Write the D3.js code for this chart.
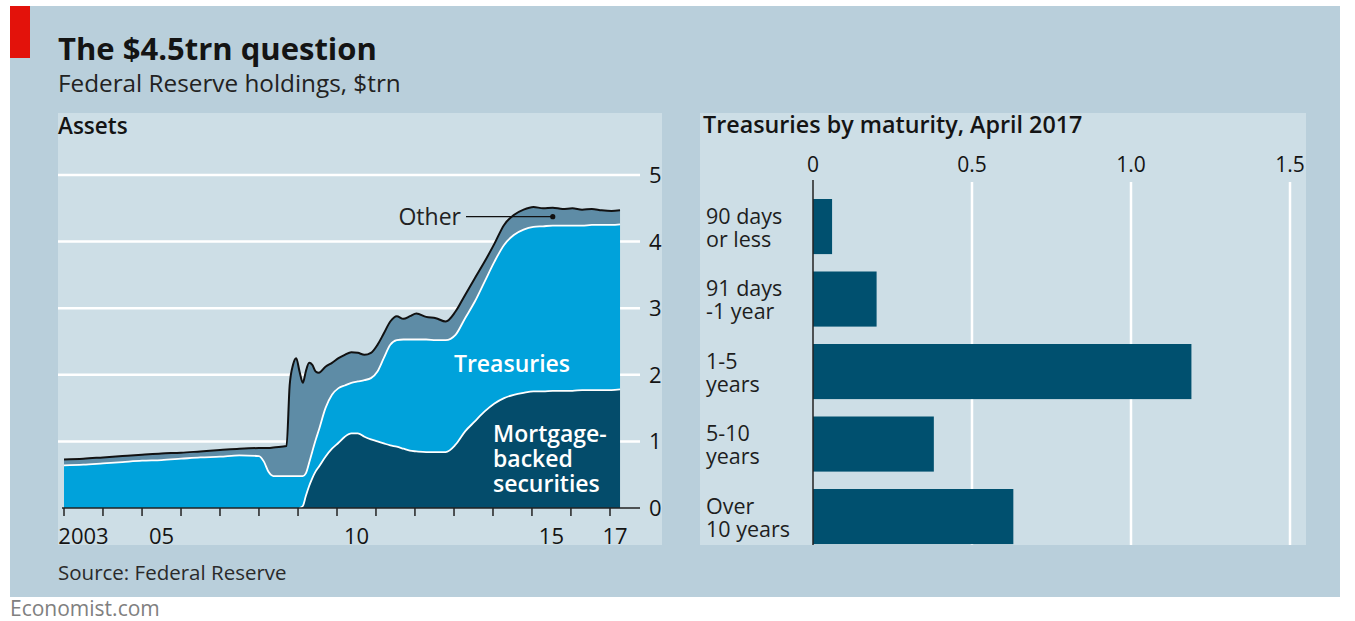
<!DOCTYPE html>
<html>
<head>
<meta charset="utf-8">
<script src="https://cdn.jsdelivr.net/npm/d3@7"></script>
<style>
  body { margin: 0; background: #fff; }
  svg text { font-family: "Open Sans", "Noto Sans", sans-serif; }
</style>
</head>
<body>
<svg id="chart" width="1355" height="621"></svg>
<script>
// Fed balance sheet, $trn
const dates = [
  "2003-01-01","2003-07-01","2004-01-01","2004-07-01","2005-01-01","2005-07-01",
  "2006-01-01","2006-07-01","2007-01-01","2007-07-01","2008-01-01","2008-02-15",
  "2008-04-01","2008-05-15","2008-09-15","2008-10-15","2008-11-15","2008-12-15",
  "2009-01-15","2009-02-15","2009-03-15","2009-04-15","2009-05-15","2009-06-15",
  "2009-07-15","2009-09-15","2009-11-15","2010-01-15","2010-03-15","2010-05-15",
  "2010-07-15","2010-09-15","2010-11-15","2011-01-15","2011-03-15","2011-05-15",
  "2011-07-15","2011-09-15","2011-11-15","2012-01-15","2012-04-15","2012-07-15",
  "2012-10-15","2013-01-15","2013-04-15","2013-07-15","2013-10-15","2014-01-15",
  "2014-04-15","2014-07-15","2014-10-15","2015-01-15","2015-04-15","2015-07-15",
  "2015-10-15","2016-01-15","2016-04-15","2016-07-15","2016-10-15","2017-01-15",
  "2017-04-05"
];
const mbs = [
  0,0,0,0,0,0, 0,0,0,0,0,0, 0,0,0,0,0,0,
  0,.03,.18,.33,.45,.55, .62,.77,.89,.98,1.07,1.12,
  1.12,1.07,1.03,1.00,.97,.94, .92,.89,.86,.85,.84,.84,
  .84,.95,1.15,1.30,1.45,1.57, 1.65,1.70,1.73,1.75,1.75,1.76,
  1.76,1.76,1.77,1.77,1.77,1.77, 1.78
];
const treasuries = [
  .64,.65,.67,.69,.71,.72, .74,.76,.77,.79,.78,.70, .54,.48,.48,.48,.48,.48,
  .48,.45,.34,.35,.40,.47, .55,.73,.81,.82,.77,.76,
  .78,.85,.92,1.05,1.28,1.51, 1.60,1.64,1.67,1.68,1.69,1.68,
  1.68,1.65,1.70,1.80,1.95,2.13, 2.30,2.40,2.45,2.47,2.48,2.48,
  2.48,2.48,2.47,2.48,2.48,2.48, 2.48
];
const other = [
  .09,.09,.09,.09,.09,.10, .09,.09,.10,.10,.12,.20, .36,.43,.45,1.37,1.67,1.77,
  1.57,1.40,1.53,1.50,1.30,1.03, .86,.62,.48,.45,.46,.46,
  .43,.38,.38,.40,.37,.35, .36,.31,.35,.39,.34,.33,
  .28,.35,.35,.35,.30,.27, .30,.30,.30,.30,.27,.27,
  .25,.26,.24,.24,.22,.21, .21
];
const yTicks = [0, 1, 2, 3, 4, 5];
const xTickYears = d3.range(2003, 2018);
const xLabels = [[2003, "2003"], [2005, "05"], [2010, "10"], [2015, "15"], [2017, "17"]];

// Treasuries by maturity, April 2017, $trn
const maturities = [
  ["90 days", "or less"],
  ["91 days", "-1 year"],
  ["1-5", "years"],
  ["5-10", "years"],
  ["Over", "10 years"]
];
const maturityValues = [0.06, 0.20, 1.19, 0.38, 0.63];
const barTicks = [0, 0.5, 1.0, 1.5];
const barTickLabels = ["0", "0.5", "1.0", "1.5"];

const C = {
  outer: "#b9cfdb",
  panel: "#cddee6",
  mbs: "#044c6b",
  treas: "#00a2db",
  other: "#5e8ca6",
  bar: "#00506f",
  ink: "#141414",
  grid: "#ffffff"
};

const svg = d3.select("#chart");
const parse = d3.timeParse("%Y-%m-%d");
const rows = dates.map((d, i) => ({
  date: parse(d), mbs: mbs[i], treasuries: treasuries[i], other: other[i]
}));

// frame
svg.append("rect").attr("x", 10).attr("y", 6).attr("width", 1330).attr("height", 591).attr("fill", C.outer);
svg.append("rect").attr("x", 10).attr("y", 6).attr("width", 20).attr("height", 52).attr("fill", "#e3120b");

svg.append("text").attr("x", 58).attr("y", 60)
  .attr("font-size", 31).attr("font-weight", "bold").attr("fill", C.ink)
  .text("The $4.5trn question");
svg.append("text").attr("x", 58).attr("y", 92)
  .attr("font-size", 24.3).attr("fill", "#222")
  .text("Federal Reserve holdings, $trn");

svg.append("text").attr("x", 58).attr("y", 580)
  .attr("font-size", 20.5).attr("fill", "#2a2a2a")
  .text("Source: Federal Reserve");
svg.append("text").attr("x", 10).attr("y", 616)
  .attr("font-size", 21).attr("fill", "#808080")
  .text("Economist.com");

// ---------- left panel: assets ----------
svg.append("rect").attr("x", 58).attr("y", 113).attr("width", 604).attr("height", 432).attr("fill", C.panel);
svg.append("text").attr("x", 58).attr("y", 134)
  .attr("font-size", 22.5).attr("font-weight", 600).attr("fill", C.ink).text("Assets");

const x = d3.scaleTime()
  .domain([new Date(2003, 0, 1), new Date(2017, 0, 1)])
  .range([64, 610]);
const y = d3.scaleLinear().domain([0, 5]).range([508, 175]);

const left = svg.append("g");

left.selectAll("line.grid")
  .data(yTicks.filter(t => t > 0))
  .join("line")
  .attr("class", "grid")
  .attr("x1", 58).attr("x2", 640)
  .attr("y1", d => y(d)).attr("y2", d => y(d))
  .attr("stroke", C.grid).attr("stroke-width", 2.5);

const series = d3.stack().keys(["mbs", "treasuries", "other"])(rows);
const fills = [C.mbs, C.treas, C.other];
const curve = d3.curveMonotoneX;

const area = d3.area()
  .curve(curve)
  .x(d => x(d.data.date))
  .y0(d => y(d[0]))
  .y1(d => y(d[1]));

left.selectAll("path.layer")
  .data(series)
  .join("path")
  .attr("class", "layer")
  .attr("d", area)
  .attr("fill", (d, i) => fills[i]);

// boundaries between layers
const edge = d3.line().curve(curve).x(d => x(d.data.date)).y(d => y(d[1]));

left.append("path").datum(series[0])
  .attr("d", edge.defined((d, i) => mbs[i] > 0 || mbs[i + 1] > 0))
  .attr("fill", "none").attr("stroke", "#fff").attr("stroke-width", 1.8);
edge.defined(() => true);

left.append("path").datum(series[1])
  .attr("d", edge)
  .attr("fill", "none").attr("stroke", "#fff").attr("stroke-width", 1.8);

left.append("path").datum(series[2])
  .attr("d", edge)
  .attr("fill", "none").attr("stroke", "#111").attr("stroke-width", 2);

// axes
left.append("line")
  .attr("x1", 62).attr("x2", 640).attr("y1", y(0)).attr("y2", y(0))
  .attr("stroke", "#222").attr("stroke-width", 1.5);

left.selectAll("line.xtick")
  .data(xTickYears)
  .join("line")
  .attr("class", "xtick")
  .attr("x1", d => x(new Date(d, 0, 1))).attr("x2", d => x(new Date(d, 0, 1)))
  .attr("y1", y(0)).attr("y2", y(0) + 8)
  .attr("stroke", "#222").attr("stroke-width", 1.5);

const lastDate = rows[rows.length - 1].date;
left.selectAll("text.xlab")
  .data(xLabels)
  .join("text")
  .attr("class", "xlab")
  .attr("x", d => {
    const a = new Date(d[0], 0, 1);
    const b = d3.min([new Date(d[0] + 1, 0, 1), lastDate]);
    return (x(a) + x(b)) / 2;
  })
  .attr("y", 544)
  .attr("text-anchor", "middle")
  .attr("font-size", 22).attr("fill", C.ink)
  .text(d => d[1]);

left.selectAll("text.ylab")
  .data(yTicks)
  .join("text")
  .attr("class", "ylab")
  .attr("x", 649).attr("y", d => y(d))
  .attr("dy", "0.36em")
  .attr("font-size", 22).attr("fill", C.ink)
  .text(d => d);

// labels
const dotRow = rows.find(r => +r.date === +parse("2015-07-15"));
const dotX = x(dotRow.date);
const dotY = y(dotRow.mbs + dotRow.treasuries + dotRow.other / 2);
left.append("text").attr("x", 461).attr("y", dotY).attr("dy", "0.36em")
  .attr("text-anchor", "end").attr("font-size", 23).attr("fill", "#222").text("Other");
left.append("line").attr("x1", 466).attr("x2", dotX).attr("y1", dotY).attr("y2", dotY)
  .attr("stroke", "#111").attr("stroke-width", 1.3);
left.append("circle").attr("cx", dotX).attr("cy", dotY).attr("r", 2.6).attr("fill", "#111");

left.append("text").attr("x", 512).attr("y", 372)
  .attr("text-anchor", "middle").attr("font-size", 23).attr("font-weight", 600)
  .attr("fill", "#fff").text("Treasuries");

left.append("text").attr("x", 493).attr("y", 442)
  .attr("font-size", 23).attr("font-weight", 600).attr("fill", "#fff")
  .selectAll("tspan")
  .data(["Mortgage-", "backed", "securities"])
  .join("tspan")
  .attr("x", 493).attr("dy", (d, i) => i === 0 ? 0 : 25)
  .text(d => d);

// ---------- right panel: maturities ----------
svg.append("rect").attr("x", 700).attr("y", 113).attr("width", 606).attr("height", 432).attr("fill", C.panel);
svg.append("text").attr("x", 703).attr("y", 133)
  .attr("font-size", 23.3).attr("font-weight", 600).attr("fill", C.ink)
  .text("Treasuries by maturity, April 2017");

const bx = d3.scaleLinear().domain([0, 1.5]).range([813, 1290]);
const by = d3.scaleBand()
  .domain(d3.range(maturities.length))
  .range([190.3, 552.8])
  .paddingInner(0.24).paddingOuter(0.12);

const right = svg.append("g");

right.selectAll("line.bgrid")
  .data(barTicks.filter(t => t > 0))
  .join("line")
  .attr("class", "bgrid")
  .attr("x1", d => bx(d)).attr("x2", d => bx(d))
  .attr("y1", 182).attr("y2", 545)
  .attr("stroke", C.grid).attr("stroke-width", 2.5);

right.selectAll("text.btick")
  .data(barTicks)
  .join("text")
  .attr("class", "btick")
  .attr("x", d => bx(d)).attr("y", 172)
  .attr("text-anchor", "middle")
  .attr("font-size", 21).attr("fill", C.ink)
  .text((d, i) => barTickLabels[i]);

right.selectAll("rect.bar")
  .data(maturityValues)
  .join("rect")
  .attr("class", "bar")
  .attr("x", bx(0))
  .attr("y", (d, i) => by(i))
  .attr("width", d => bx(d) - bx(0))
  .attr("height", by.bandwidth())
  .attr("fill", C.bar);

right.append("line")
  .attr("x1", bx(0)).attr("x2", bx(0)).attr("y1", 180).attr("y2", 545)
  .attr("stroke", "#222").attr("stroke-width", 1.5);

const lab = right.selectAll("text.blab")
  .data(maturities)
  .join("text")
  .attr("class", "blab")
  .attr("font-size", 21.5).attr("fill", "#1e1e1e");
lab.selectAll("tspan")
  .data((d, i) => d.map(t => ({ t, i })))
  .join("tspan")
  .attr("x", 706)
  .attr("y", (d, j) => by(d.i) + by.bandwidth() / 2 - 3 + j * 23)
  .text(d => d.t);
</script>
</body>
</html>
